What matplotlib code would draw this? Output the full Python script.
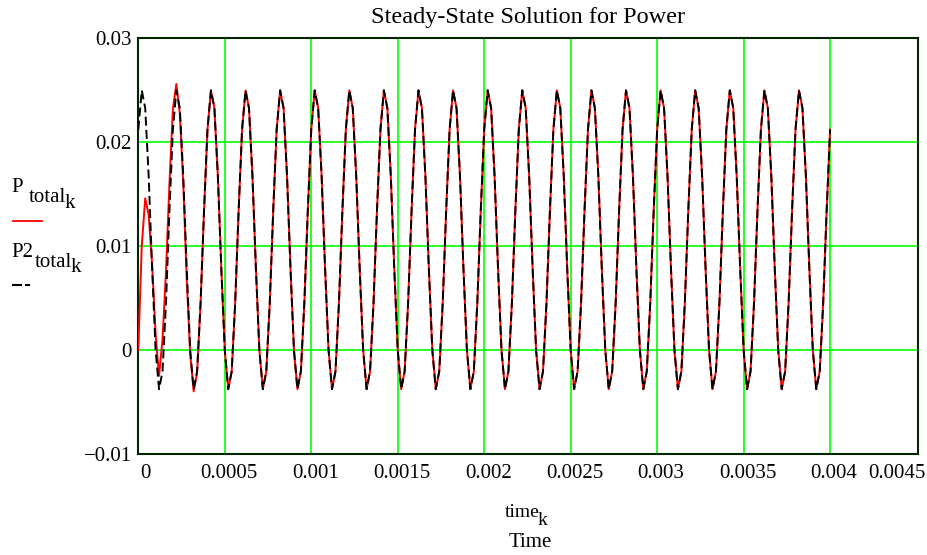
import numpy as np
import matplotlib
matplotlib.use("Agg")
import matplotlib.pyplot as plt
from matplotlib import transforms
from matplotlib.lines import Line2D

plt.rcParams["font.family"] = ["Liberation Serif", "DejaVu Serif"]

# sample spacing of time_k (s)
DT = 2e-5

# transient solution (one row = one period of 10 samples)
P_total = [
    0.00000, 0.01000, 0.01460, 0.01300, 0.00820, 0.00150, -0.00250, 0.00100, 0.00750, 0.01600,
    0.02320, 0.02560, 0.02280, 0.01600, 0.00680, -0.00040, -0.00400, -0.00220, 0.00447, 0.01337,
    0.02121, 0.02499, 0.02328, 0.01673, 0.00783, -0.00001, -0.00379, -0.00208, 0.00447, 0.01337,
    0.02121, 0.02499, 0.02328, 0.01673, 0.00783, -0.00001, -0.00379, -0.00208, 0.00447, 0.01337,
    0.02121, 0.02499, 0.02328, 0.01673, 0.00783, -0.00001, -0.00379, -0.00208, 0.00447, 0.01337,
    0.02121, 0.02499, 0.02328, 0.01673, 0.00783, -0.00001, -0.00379, -0.00208, 0.00447, 0.01337,
    0.02121, 0.02499, 0.02328, 0.01673, 0.00783, -0.00001, -0.00379, -0.00208, 0.00447, 0.01337,
    0.02121, 0.02499, 0.02328, 0.01673, 0.00783, -0.00001, -0.00379, -0.00208, 0.00447, 0.01337,
    0.02121, 0.02499, 0.02328, 0.01673, 0.00783, -0.00001, -0.00379, -0.00208, 0.00447, 0.01337,
    0.02121, 0.02499, 0.02328, 0.01673, 0.00783, -0.00001, -0.00379, -0.00208, 0.00447, 0.01337,
    0.02121, 0.02499, 0.02328, 0.01673, 0.00783, -0.00001, -0.00379, -0.00208, 0.00447, 0.01337,
    0.02121, 0.02499, 0.02328, 0.01673, 0.00783, -0.00001, -0.00379, -0.00208, 0.00447, 0.01337,
    0.02121, 0.02499, 0.02328, 0.01673, 0.00783, -0.00001, -0.00379, -0.00208, 0.00447, 0.01337,
    0.02121, 0.02499, 0.02328, 0.01673, 0.00783, -0.00001, -0.00379, -0.00208, 0.00447, 0.01337,
    0.02121, 0.02499, 0.02328, 0.01673, 0.00783, -0.00001, -0.00379, -0.00208, 0.00447, 0.01337,
    0.02121, 0.02499, 0.02328, 0.01673, 0.00783, -0.00001, -0.00379, -0.00208, 0.00447, 0.01337,
    0.02121, 0.02499, 0.02328, 0.01673, 0.00783, -0.00001, -0.00379, -0.00208, 0.00447, 0.01337,
    0.02121, 0.02499, 0.02328, 0.01673, 0.00783, -0.00001, -0.00379, -0.00208, 0.00447, 0.01337,
    0.02121, 0.02499, 0.02328, 0.01673, 0.00783, -0.00001, -0.00379, -0.00208, 0.00447, 0.01337,
    0.02121, 0.02499, 0.02328, 0.01673, 0.00783, -0.00001, -0.00379, -0.00208, 0.00447, 0.01337,
    0.02121,
]

# steady-state solution
P2_total = [
    0.02121, 0.02499, 0.02328, 0.01673, 0.00783, -0.00001, -0.00379, -0.00208, 0.00447, 0.01337,
    0.02121, 0.02499, 0.02328, 0.01673, 0.00783, -0.00001, -0.00379, -0.00208, 0.00447, 0.01337,
    0.02121, 0.02499, 0.02328, 0.01673, 0.00783, -0.00001, -0.00379, -0.00208, 0.00447, 0.01337,
    0.02121, 0.02499, 0.02328, 0.01673, 0.00783, -0.00001, -0.00379, -0.00208, 0.00447, 0.01337,
    0.02121, 0.02499, 0.02328, 0.01673, 0.00783, -0.00001, -0.00379, -0.00208, 0.00447, 0.01337,
    0.02121, 0.02499, 0.02328, 0.01673, 0.00783, -0.00001, -0.00379, -0.00208, 0.00447, 0.01337,
    0.02121, 0.02499, 0.02328, 0.01673, 0.00783, -0.00001, -0.00379, -0.00208, 0.00447, 0.01337,
    0.02121, 0.02499, 0.02328, 0.01673, 0.00783, -0.00001, -0.00379, -0.00208, 0.00447, 0.01337,
    0.02121, 0.02499, 0.02328, 0.01673, 0.00783, -0.00001, -0.00379, -0.00208, 0.00447, 0.01337,
    0.02121, 0.02499, 0.02328, 0.01673, 0.00783, -0.00001, -0.00379, -0.00208, 0.00447, 0.01337,
    0.02121, 0.02499, 0.02328, 0.01673, 0.00783, -0.00001, -0.00379, -0.00208, 0.00447, 0.01337,
    0.02121, 0.02499, 0.02328, 0.01673, 0.00783, -0.00001, -0.00379, -0.00208, 0.00447, 0.01337,
    0.02121, 0.02499, 0.02328, 0.01673, 0.00783, -0.00001, -0.00379, -0.00208, 0.00447, 0.01337,
    0.02121, 0.02499, 0.02328, 0.01673, 0.00783, -0.00001, -0.00379, -0.00208, 0.00447, 0.01337,
    0.02121, 0.02499, 0.02328, 0.01673, 0.00783, -0.00001, -0.00379, -0.00208, 0.00447, 0.01337,
    0.02121, 0.02499, 0.02328, 0.01673, 0.00783, -0.00001, -0.00379, -0.00208, 0.00447, 0.01337,
    0.02121, 0.02499, 0.02328, 0.01673, 0.00783, -0.00001, -0.00379, -0.00208, 0.00447, 0.01337,
    0.02121, 0.02499, 0.02328, 0.01673, 0.00783, -0.00001, -0.00379, -0.00208, 0.00447, 0.01337,
    0.02121, 0.02499, 0.02328, 0.01673, 0.00783, -0.00001, -0.00379, -0.00208, 0.00447, 0.01337,
    0.02121, 0.02499, 0.02328, 0.01673, 0.00783, -0.00001, -0.00379, -0.00208, 0.00447, 0.01337,
    0.02121,
]

x_ticks = [0, 0.0005, 0.001, 0.0015, 0.002, 0.0025, 0.003, 0.0035, 0.004, 0.0045]
x_tick_labels = ["0", "0.0005", "0.001", "0.0015", "0.002", "0.0025",
                 "0.003", "0.0035", "0.004", "0.0045"]
y_ticks = [-0.01, 0, 0.01, 0.02, 0.03]
y_tick_labels = ["\u22120.01", "0", "0.01", "0.02", "0.03"]

W, H = 927, 555
GRID = "#00ff00"
FRAME = "#002800"


def px(x, y):
    return x / W, 1 - y / H


fig = plt.figure(figsize=(W / 100, H / 100), dpi=100)
ax = fig.add_axes([138.3 / W, 1 - 453.7 / H, 780 / W, 415.4 / H])

time_k = np.arange(len(P_total)) * DT
ax.plot(time_k, P_total, color="red", lw=1.4, zorder=3)
ax.plot(time_k, P2_total, color="black", lw=1.4, dashes=(4.6, 2.2), zorder=4)

for t in x_ticks[1:-1]:
    ax.axvline(t, color=GRID, lw=1.2, zorder=1)
for v in y_ticks[1:-1]:
    ax.axhline(v, color=GRID, lw=1.2, zorder=1)

ax.set_xlim(0, 0.00451)
ax.set_ylim(-0.01, 0.03)
ax.set_xticks(x_ticks, x_tick_labels)
ax.set_yticks(y_ticks, y_tick_labels)
ax.tick_params(axis="both", length=0, labelsize=15, colors="black")
ax.tick_params(axis="x", pad=7.2)
ax.tick_params(axis="y", pad=4.8)
for sp in ax.spines.values():
    sp.set_color(FRAME)
    sp.set_linewidth(1.5)

# Mathcad nudges the tick labels a little
shifts = [7, 4, 4, 4, 4, 4, 4, 4, 4, -19.6]
for lab, dx in zip(ax.get_xticklabels(), shifts):
    off = transforms.ScaledTranslation(dx / 100, 0, fig.dpi_scale_trans)
    lab.set_transform(lab.get_transform() + off)

ax.set_title("Steady-State Solution for Power", fontsize=17.5, pad=10.8)

# x axis labels
fig.text(*px(504.3, 516.7), "time", fontsize=14, va="baseline")
fig.text(*px(537.5, 525), "k", fontsize=14, va="baseline")
fig.text(*px(530, 546.7), "Time", fontsize=15, ha="center", va="baseline")

# trace labels on the left
fig.text(*px(11.7, 191.7), "P", fontsize=15, va="baseline")
fig.text(*px(28.3, 201.7), "total", fontsize=15, va="baseline")
fig.text(*px(65, 208.3), "k", fontsize=15, va="baseline")
fig.add_artist(Line2D([12.7 / W, 41.7 / W], [1 - 220.7 / H] * 2,
                      color="red", lw=1.3))

fig.text(*px(11.7, 257.3), "P2", fontsize=15, va="baseline")
fig.text(*px(34.5, 266.7), "total", fontsize=15, va="baseline")
fig.text(*px(71, 271.7), "k", fontsize=15, va="baseline")
fig.add_artist(Line2D([12.7 / W, 20.7 / W], [1 - 285 / H] * 2,
                      color="black", lw=1.5))
fig.add_artist(Line2D([26 / W, 28.5 / W], [1 - 285 / H] * 2,
                      color="black", lw=1.5))

fig.savefig("out.png", dpi=100)
